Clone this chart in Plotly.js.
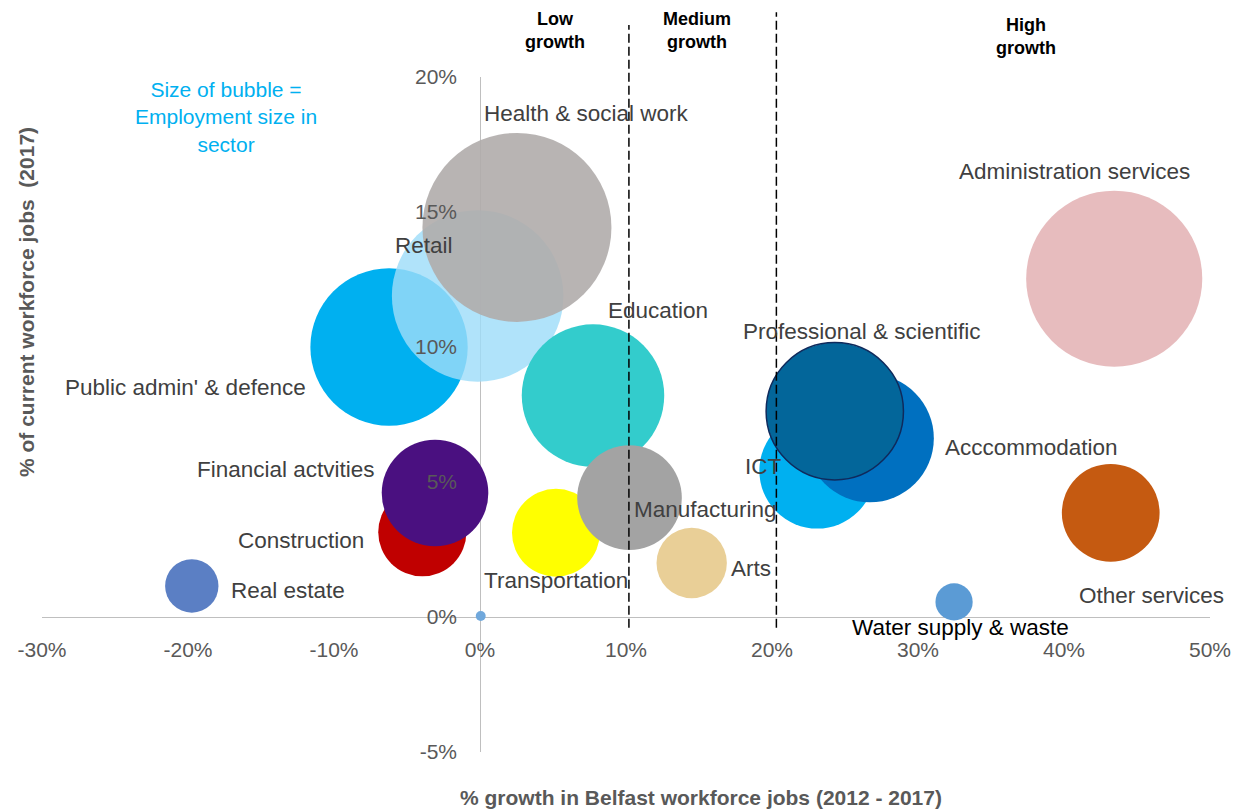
<!DOCTYPE html>
<html>
<head>
<meta charset="utf-8">
<script src="https://cdn.plot.ly/plotly-3.0.1.min.js"></script>
<style>
html,body{margin:0;padding:0;background:#ffffff;}
#chart{width:1235px;height:811px;}
</style>
</head>
<body>
<div id="chart"></div>
<script>
// ---------------- DATA ----------------
// Drawing order matters (later sectors are drawn on top).
const sectors = [
  "Real estate",
  "Construction",
  "Financial actvities",
  "Public admin' & defence",
  "Retail",
  "Health & social work",
  "Education",
  "Transportation",
  "Manufacturing",
  "Arts",
  "ICT",
  "Acccommodation",
  "Professional & scientific",
  "Water supply & waste",
  "Administration services",
  "Other services",
  "(unlabelled)"
];
// % growth in Belfast workforce jobs (2012 - 2017)
const growthPct = [-19.74, -3.95, -3.08, -6.23, -0.16, 2.53, 7.74, 5.2, 10.24, 14.5, 23.1, 26.7, 24.3, 32.47, 43.44, 43.2, 0.05];
// % of current workforce jobs (2017) - also the employment size shown by bubble area
const sharePct  = [1.15, 3.14, 4.59, 10.0, 11.89, 14.43, 8.2, 3.12, 4.42, 2.0, 5.42, 6.62, 7.62, 0.56, 12.53, 3.86, 0.04];

const xTickVals = [-30, -20, -10, 0, 10, 20, 30, 40, 50];
const xTickText = ["-30%", "-20%", "-10%", "0%", "10%", "20%", "30%", "40%", "50%"];
const yTickVals = [-5, 0, 5, 10, 15, 20];
const yTickText = ["-5%", "0%", "5%", "10%", "15%", "20%"];

const growthBandEdges = [10.2, 20.3];
const growthBandLabels = ["Low<br>growth", "Medium<br>growth", "High<br>growth"];

const xAxisTitle = "% growth in Belfast workforce jobs (2012 - 2017)";
const yAxisTitle = "% of current workforce jobs \u00a0(2017)";
const sizeNote = "Size of bubble =<br>Employment size in<br>sector";

// ---------------- STYLES ----------------
const sectorStyle = {
  "Real estate":               {color: "#5b7fc4", label: [96.5, -4.5]},
  "Construction":              {color: "#c00000", label: [-121.6, -8]},
  "Financial actvities":       {color: "#4a1080", label: [-149, 23.3]},
  "Public admin' & defence":   {color: "#00b0f0", label: [-203.6, -40]},
  "Retail":                    {color: "rgba(158,220,249,0.81)", label: [-54, 50.5]},
  "Health & social work":      {color: "rgba(176,172,171,0.9)", label: [70, 114.3]},
  "Education":                 {color: "#33cccc", label: [64.5, 85]},
  "Transportation":            {color: "#ffff00", label: [0, -48]},
  "Manufacturing":             {color: "#a3a3a3", label: [76, -11.5]},
  "Arts":                      {color: "#e9cf97", label: [59.5, -5.4]},
  "ICT":                       {color: "#00b0f0", label: [-53.7, 4]},
  "Acccommodation":            {color: "#0070c0", label: [162, -9.5]},
  "Professional & scientific": {color: "#03669a", label: [26.8, 80], line: "#0f2a5c", lw: 1.5},
  "Water supply & waste":      {color: "#5b9bd5", label: [6, -26], labelColor: "#000000"},
  "Administration services":   {color: "#e7bcbe", label: [-40, 107.5]},
  "Other services":            {color: "#c55a11", label: [41, -82.7]},
  "(unlabelled)":              {color: "#70a8dc", label: null}
};

const maxBubbleDiameter = 189;
const maxShare = Math.max.apply(null, sharePct);

const trace = {
  type: "scatter",
  mode: "markers",
  x: growthPct,
  y: sharePct,
  text: sectors,
  hoverinfo: "text",
  cliponaxis: false,
  marker: {
    size: sharePct,
    sizemode: "area",
    sizeref: 2 * maxShare / (maxBubbleDiameter * maxBubbleDiameter),
    color: sectors.map(s => sectorStyle[s].color),
    opacity: 1,
    line: {
      color: sectors.map(s => sectorStyle[s].line || "rgba(0,0,0,0)"),
      width: sectors.map(s => sectorStyle[s].lw || 0)
    }
  }
};

const labelFont = {family: "Liberation Sans, Arial, sans-serif", size: 22.5, color: "#404040"};
const annotations = [];
sectors.forEach((s, i) => {
  const st = sectorStyle[s];
  if (!st.label) return;
  annotations.push({
    xref: "x", yref: "y", x: growthPct[i], y: sharePct[i],
    text: s, showarrow: false, xanchor: "center", yanchor: "middle",
    xshift: st.label[0], yshift: st.label[1],
    font: Object.assign({}, labelFont, st.labelColor ? {color: st.labelColor} : {})
  });
});

// growth band headers
const headerPos = [[0.4396, 1.0689], [0.5612, 1.0689], [0.8423, 1.0593]];
growthBandLabels.forEach((t, i) => {
  annotations.push({
    xref: "paper", yref: "paper", x: headerPos[i][0], y: headerPos[i][1],
    text: "<b>" + t + "</b>", showarrow: false, xanchor: "center", yanchor: "middle",
    font: {family: "Liberation Sans, Arial, sans-serif", size: 18, color: "#000000"}
  });
});

// bubble size note
annotations.push({
  xref: "paper", yref: "paper", x: 0.1575, y: 0.9407,
  text: sizeNote, showarrow: false, xanchor: "center", yanchor: "middle",
  font: {family: "Liberation Sans, Arial, sans-serif", size: 21, color: "#00b0f0"}
});

// axis titles
annotations.push({
  xref: "paper", yref: "paper", x: 0.5642, y: -0.0681,
  text: "<b>" + xAxisTitle + "</b>", showarrow: false, xanchor: "center", yanchor: "middle",
  font: {family: "Liberation Sans, Arial, sans-serif", size: 21, color: "#595959"}
});
annotations.push({
  xref: "paper", yref: "paper", x: -0.0128, y: 0.6667, textangle: -90,
  text: "<b>" + yAxisTitle + "</b>", showarrow: false, xanchor: "center", yanchor: "middle",
  font: {family: "Liberation Sans, Arial, sans-serif", size: 21, color: "#595959"}
});

const dashTops = [1.077, 1.096];
const shapes = growthBandEdges.map((x, i) => ({
  type: "line", xref: "x", yref: "paper",
  x0: x, x1: x, y0: 0.184, y1: dashTops[i],
  layer: "above",
  line: {color: "#000000", width: 1.5, dash: "9px,4px"}
}));

const tickFont = {family: "Liberation Sans, Arial, sans-serif", size: 21, color: "#595959"};

const layout = {
  width: 1235, height: 811,
  margin: {l: 42, r: 25, t: 77, b: 59, pad: 0},
  paper_bgcolor: "#ffffff", plot_bgcolor: "#ffffff",
  showlegend: false,
  xaxis: {
    range: [-30, 50], anchor: "free", position: 0.2,
    tickvals: xTickVals, ticktext: xTickText, ticks: "",
    showgrid: false, showline: false,
    zeroline: true, zerolinecolor: "#bfbfbf", zerolinewidth: 1.3,
    tickfont: tickFont, ticklabelstandoff: 18, fixedrange: true
  },
  yaxis: {
    range: [-5, 20], anchor: "free", position: 0.375,
    tickvals: yTickVals, ticktext: yTickText, ticks: "",
    showgrid: false, showline: false,
    zeroline: true, zerolinecolor: "#bfbfbf", zerolinewidth: 1.3,
    tickfont: tickFont, ticklabelstandoff: 23, fixedrange: true
  },
  shapes: shapes,
  annotations: annotations,
  hovermode: "closest"
};

Plotly.newPlot("chart", [trace], layout, {displayModeBar: false, staticPlot: false});
</script>
</body>
</html>
